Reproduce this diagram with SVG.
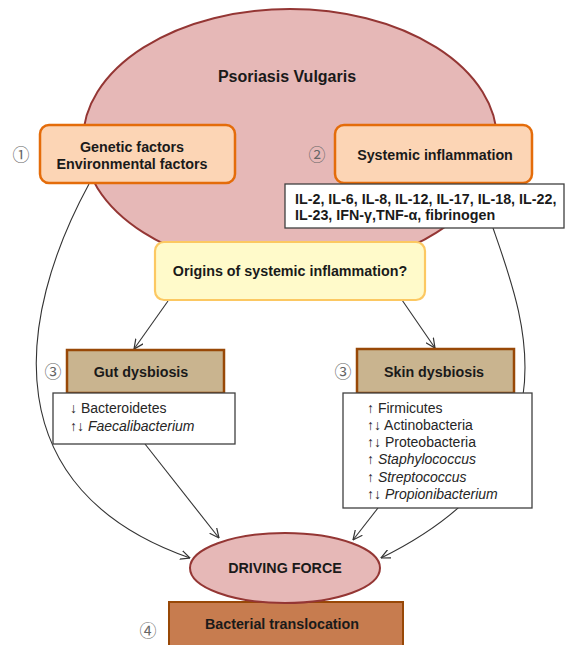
<svg xmlns="http://www.w3.org/2000/svg" width="568" height="645" viewBox="0 0 568 645">
<style>
text{font-family:"Liberation Sans",Arial,sans-serif;fill:#1a1a1a}
.b{font-weight:bold;font-size:14.3px}
.c{text-anchor:middle}
.n{font-family:"Noto Sans CJK JP","DejaVu Sans",sans-serif;font-size:17px;fill:#666}
.l{font-size:14px;fill:#262626}
.i{font-style:italic}
.pink{fill:#e6b8b7;stroke:#943634;stroke-width:2}
.peach{fill:#fcd5b5;stroke:#e46c0a;stroke-width:2.5}
.tan{fill:#c9b48f;stroke:#984807;stroke-width:2.5}
.list{fill:#fff;stroke:#404040;stroke-width:1.3}
.con{fill:none;stroke:#333;stroke-width:1.1;marker-end:url(#ah)}
</style>
<defs>
<marker id="ah" viewBox="0 0 10 10" refX="9.5" refY="5" markerWidth="10" markerHeight="10" markerUnits="userSpaceOnUse" orient="auto">
<path d="M0,0.5 L9.5,5 L0,9.5" fill="none" stroke="#333" stroke-width="1.2"/>
</marker>
</defs>
<rect width="568" height="645" fill="#fff"/>
<g id="psoriasis">
<ellipse class="pink" cx="290" cy="140" rx="207" ry="131"/>
<text class="b c" x="287" y="82" style="font-size:16px">Psoriasis Vulgaris</text>
</g>
<g id="connectors">
<path class="con" d="M89,184 C15,320 -5,490 190,558"/>
<path class="con" d="M493,228 C525,320 580,460 381,558"/>
<path class="con" d="M168,301 L134,349"/>
<path class="con" d="M402,300 L435,348"/>
<path class="con" d="M145,444 L219,538"/>
<path class="con" d="M378,508 L353,540"/>
</g>
<g id="genetic">
<rect class="peach" x="40" y="125" width="195" height="58" rx="9"/>
<text class="b c" x="132" y="152">Genetic factors</text>
<text class="b c" x="132" y="169">Environmental factors</text>
<text class="n c" x="21" y="161">①</text>
</g>
<g id="systemic">
<rect class="peach" x="335" y="125" width="197" height="58" rx="9"/>
<text class="b c" x="435" y="160">Systemic inflammation</text>
<text class="n c" x="317" y="161">②</text>
</g>
<g id="cytokines">
<rect class="list" x="285" y="184" width="279" height="44"/>
<text class="b" x="295" y="204">IL-2, IL-6, IL-8, IL-12, IL-17, IL-18, IL-22,</text>
<text class="b" x="295" y="220">IL-23, IFN-γ,TNF-α, fibrinogen</text>
</g>
<g id="origins">
<rect x="155" y="242" width="270" height="58" rx="9" fill="#fffaca" stroke="#fcc862" stroke-width="2.2"/>
<text class="b c" x="290" y="276">Origins of systemic inflammation?</text>
</g>
<g id="gut">
<rect class="tan" x="67" y="350" width="157" height="43"/>
<text class="b c" x="141" y="377">Gut dysbiosis</text>
<text class="n c" x="53" y="378">③</text>
<rect class="list" x="53" y="393" width="182" height="51"/>
<text class="l" x="70" y="413">↓ Bacteroidetes</text>
<text class="l" x="70" y="431">↑↓ <tspan class="i">Faecalibacterium</tspan></text>
</g>
<g id="skin">
<rect class="tan" x="357" y="349" width="157" height="44"/>
<text class="b c" x="434" y="377">Skin dysbiosis</text>
<text class="n c" x="343" y="378">③</text>
<rect class="list" x="343" y="393" width="189" height="115"/>
<text class="l" x="367" y="413">↑ Firmicutes</text>
<text class="l" x="367" y="430">↑↓ Actinobacteria</text>
<text class="l" x="367" y="447">↑↓ Proteobacteria</text>
<text class="l" x="367" y="464">↑ <tspan class="i">Staphylococcus</tspan></text>
<text class="l" x="367" y="482">↑ <tspan class="i">Streptococcus</tspan></text>
<text class="l" x="367" y="499">↑↓ <tspan class="i">Propionibacterium</tspan></text>
</g>
<g id="translocation">
<rect x="169" y="602" width="234" height="50" fill="#c77c4f" stroke="#984807" stroke-width="2"/>
<text class="b c" x="282" y="629">Bacterial translocation</text>
<text class="n c" x="148" y="637">④</text>
</g>
<g id="driving">
<ellipse class="pink" cx="285" cy="568" rx="95" ry="35"/>
<text class="b c" x="285" y="573">DRIVING FORCE</text>
</g>
</svg>
